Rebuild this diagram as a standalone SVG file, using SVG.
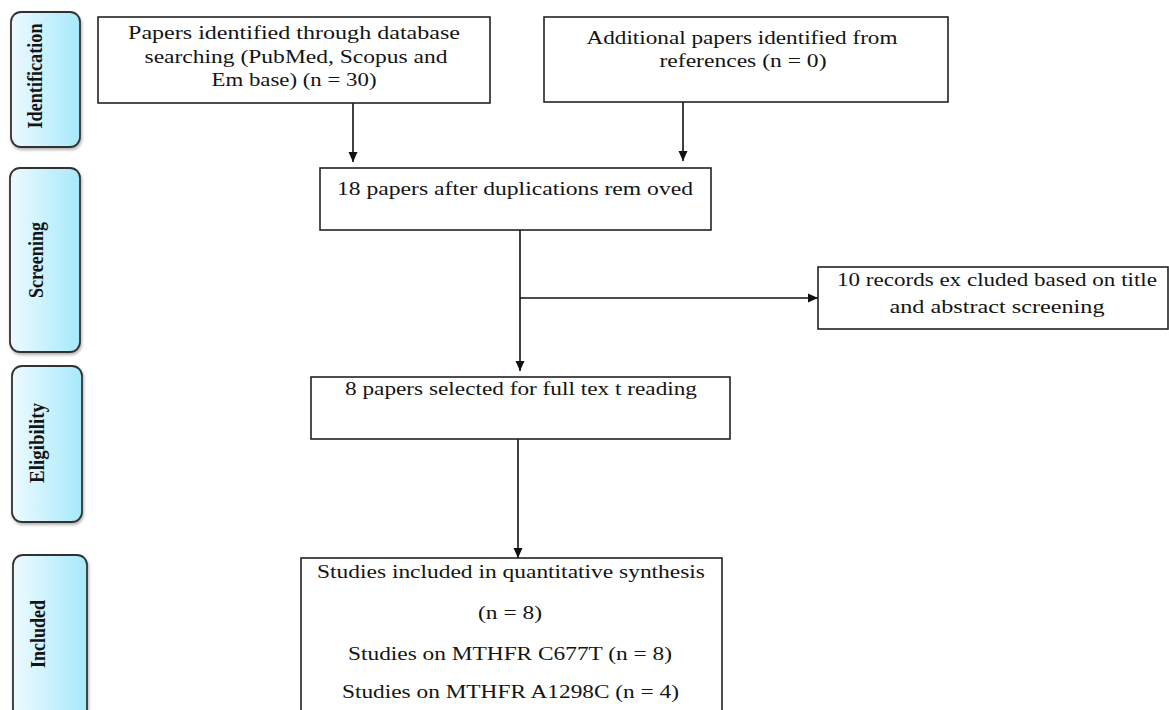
<svg xmlns="http://www.w3.org/2000/svg" width="1169" height="710" viewBox="0 0 1169 710">
<style>
.box{fill:#fff;stroke:#222;stroke-width:1.6}
.side{fill:url(#sg);stroke:#333;stroke-width:1.8}
.t{font-family:"Liberation Serif",serif;font-size:19px;fill:#141414;text-anchor:middle}
.s{font-family:"Liberation Serif",serif;font-size:22px;font-weight:bold;fill:#141414;text-anchor:middle}
.c{stroke:#111;stroke-width:1.6;fill:none}
</style>
<defs>
<linearGradient id="sg" x1="0" y1="0" x2="1" y2="0">
<stop offset="0" stop-color="#eefaff"/>
<stop offset="1" stop-color="#a6e9fb"/>
</linearGradient>
<filter id="sh" x="-20%" y="-20%" width="140%" height="140%">
<feDropShadow dx="1" dy="2" stdDeviation="1.5" flood-color="#000" flood-opacity="0.3"/>
</filter>
<marker id="ah" markerUnits="userSpaceOnUse" markerWidth="10" markerHeight="10" viewBox="0 0 10 10" refX="10" refY="5" orient="auto">
<path d="M0,0.5 L10,5 L0,9.5 z" fill="#111"/>
</marker>
</defs>
<rect width="1169" height="710" fill="#fff"/>

<g id="stage-identification">
<rect class="side" filter="url(#sh)" x="11" y="12" width="69" height="135" rx="10"/>
<text class="s" transform="translate(42,76) rotate(-90)" textLength="105" lengthAdjust="spacingAndGlyphs">Identification</text>
</g>
<g id="stage-screening">
<rect class="side" filter="url(#sh)" x="10" y="168" width="70" height="184" rx="10"/>
<text class="s" transform="translate(43,260) rotate(-90)" textLength="76" lengthAdjust="spacingAndGlyphs">Screening</text>
</g>
<g id="stage-eligibility">
<rect class="side" filter="url(#sh)" x="12" y="366" width="70" height="156" rx="10"/>
<text class="s" transform="translate(43.5,443) rotate(-90)" textLength="80" lengthAdjust="spacingAndGlyphs">Eligibility</text>
</g>
<g id="stage-included">
<rect class="side" filter="url(#sh)" x="13" y="555" width="74" height="175" rx="10"/>
<text class="s" transform="translate(45,634) rotate(-90)" textLength="68" lengthAdjust="spacingAndGlyphs">Included</text>
</g>

<g id="connectors">
<line class="c" x1="353" y1="103" x2="353" y2="162" marker-end="url(#ah)"/>
<line class="c" x1="683" y1="102" x2="683" y2="161" marker-end="url(#ah)"/>
<line class="c" x1="520" y1="230" x2="520" y2="371" marker-end="url(#ah)"/>
<line class="c" x1="520" y1="298" x2="818" y2="298" marker-end="url(#ah)"/>
<line class="c" x1="518" y1="439" x2="518" y2="558" marker-end="url(#ah)"/>
</g>

<g id="node-database">
<rect class="box" x="98" y="17" width="392" height="86"/>
<text class="t" x="294" y="39" textLength="332" lengthAdjust="spacingAndGlyphs">Papers identified through database</text>
<text class="t" x="296" y="63" textLength="303" lengthAdjust="spacingAndGlyphs">searching (PubMed, Scopus and</text>
<text class="t" x="294" y="86" textLength="165" lengthAdjust="spacingAndGlyphs">Em base) (n = 30)</text>
</g>
<g id="node-additional">
<rect class="box" x="544" y="17" width="404" height="85"/>
<text class="t" x="742" y="44" textLength="311" lengthAdjust="spacingAndGlyphs">Additional papers identified from</text>
<text class="t" x="743" y="67" textLength="167" lengthAdjust="spacingAndGlyphs">references (n = 0)</text>
</g>
<g id="node-duplicates">
<rect class="box" x="320" y="168" width="391" height="62"/>
<text class="t" x="515" y="195" textLength="356" lengthAdjust="spacingAndGlyphs">18 papers after duplications rem oved</text>
</g>
<g id="node-excluded">
<rect class="box" x="818" y="267" width="350" height="62"/>
<text class="t" x="997" y="286" textLength="320" lengthAdjust="spacingAndGlyphs">10 records ex cluded based on title</text>
<text class="t" x="997" y="313" textLength="215" lengthAdjust="spacingAndGlyphs">and abstract screening</text>
</g>
<g id="node-fulltext">
<rect class="box" x="311" y="377" width="419" height="62"/>
<text class="t" x="521" y="395" textLength="352" lengthAdjust="spacingAndGlyphs">8 papers selected for full tex t reading</text>
</g>
<g id="node-included">
<rect class="box" x="301" y="558" width="421" height="170"/>
<text class="t" x="511" y="578" textLength="388" lengthAdjust="spacingAndGlyphs">Studies included in quantitative synthesis</text>
<text class="t" x="510" y="619" textLength="64" lengthAdjust="spacingAndGlyphs">(n = 8)</text>
<text class="t" x="510" y="660" textLength="324" lengthAdjust="spacingAndGlyphs">Studies on MTHFR C677T (n = 8)</text>
<text class="t" x="510.5" y="698" textLength="337" lengthAdjust="spacingAndGlyphs">Studies on MTHFR A1298C (n = 4)</text>
</g>
</svg>
